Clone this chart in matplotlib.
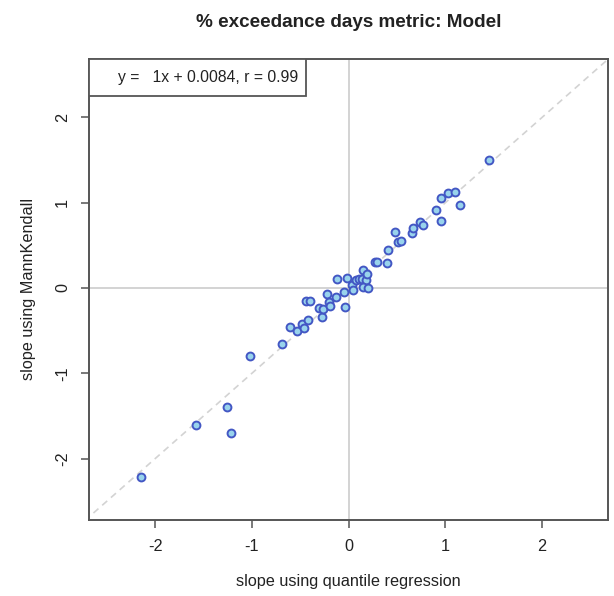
import matplotlib
matplotlib.use("Agg")
import numpy as np
from matplotlib import pyplot as plt
from matplotlib.patches import Rectangle

# slopes
slope_qr = [-2.15, -1.58, -1.26, -1.22, -1.02, -0.69, -0.61, -0.53, -0.48, -0.46,
            -0.42, -0.44, -0.40, -0.31, -0.28, -0.26, -0.22, -0.20, -0.19, -0.13,
            -0.12, -0.05, -0.04, -0.02, 0.03, 0.05, 0.08, 0.11, 0.14, 0.15,
            0.18, 0.19, 0.15, 0.20, 0.27, 0.29, 0.40, 0.41, 0.48, 0.51,
            0.54, 0.66, 0.67, 0.74, 0.77, 0.90, 0.95, 0.96, 1.03, 1.10,
            1.15, 1.45]
slope_mk = [-2.22, -1.61, -1.40, -1.70, -0.80, -0.66, -0.46, -0.50, -0.42, -0.47,
            -0.37, -0.15, -0.15, -0.24, -0.34, -0.25, -0.07, -0.16, -0.21, -0.11,
            0.10, -0.05, -0.22, 0.12, 0.04, -0.02, 0.09, 0.11, 0.10, 0.21,
            0.09, 0.16, 0.015, 0.00, 0.30, 0.30, 0.29, 0.44, 0.66, 0.54,
            0.55, 0.65, 0.70, 0.77, 0.74, 0.92, 0.79, 1.05, 1.11, 1.13,
            0.97, 1.50]
fit_label = "y =   1x + 0.0084, r = 0.99"
ticks = [-2, -1, 0, 1, 2]

plt.rcParams['font.family'] = ['Liberation Sans', 'DejaVu Sans']

fig = plt.figure(figsize=(6.14, 5.96), dpi=100)
ax = fig.add_axes([0.1456, 0.1275, 0.8444, 0.7743])

ax.set_xlim(-2.68, 2.68)
ax.set_ylim(-2.72, 2.69)

# reference lines
ax.axhline(0, color="#d0d0d0", lw=1.3, zorder=1)
ax.axvline(0, color="#d0d0d0", lw=1.3, zorder=1)
ax.plot([-3, 3], [-3, 3], color="#d3d3d3", lw=1.2, ls=(0, (4, 3)), zorder=1)

ax.scatter(slope_qr, slope_mk, s=32, facecolor="#98d3ec", edgecolor="#4357c4",
           linewidths=1.4, zorder=3)

# legend box in the top-left corner
ax.add_patch(Rectangle((0, 0.919), 0.418, 0.081, transform=ax.transAxes,
                       facecolor="white", edgecolor="#555555", lw=1.3, zorder=4))
ax.text(0.055, 0.959, fit_label, transform=ax.transAxes, ha="left", va="center",
        fontsize=11.3, color="#222222", zorder=5)

ax.set_xticks(ticks)
ax.set_yticks(ticks)
ax.set_xticklabels([str(t) for t in ticks])
ax.set_yticklabels([str(t) for t in ticks], rotation=90, va="center")
ax.tick_params(direction="out", length=6, width=1.1, color="#555555",
               labelsize=11.7, labelcolor="#222222", pad=8)
for sp in ax.spines.values():
    sp.set_color("#555555")
    sp.set_linewidth(1.4)

ax.set_xlabel("slope using quantile regression", fontsize=11.7, color="#222222", labelpad=14)
ax.set_ylabel("slope using MannKendall", fontsize=11.7, color="#222222", labelpad=14)
ax.set_title("% exceedance days metric: Model", fontsize=13.6, fontweight="bold",
             color="#222222", pad=23)

fig.savefig("out.png", dpi=100)
